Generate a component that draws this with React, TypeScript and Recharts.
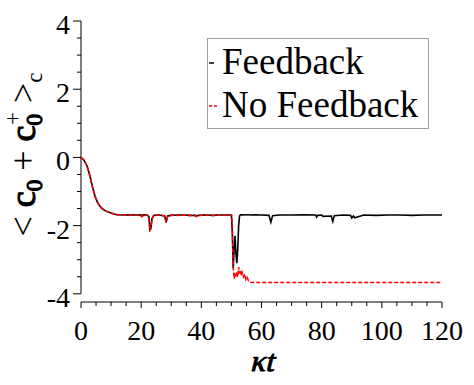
import React from 'react';
import { LineChart, Line, XAxis, YAxis, Legend, ReferenceLine } from 'recharts';

const FONT = "'Liberation Serif', serif";

// kappa*t sample times
const time = [
  0, 1, 2, 3, 3.5, 4, 4.7, 5.5, 6.2, 7, 8, 9, 10, 11, 12, 14, 16, 18, 19.5, 20.2,
  21, 22, 22.6, 22.9, 23.2, 23.6, 24.2, 26, 27.8, 28.3, 28.8, 30, 32, 34, 36, 38, 38.5, 39, 41, 44,
  46, 48, 50, 50.3, 50.6, 50.9, 51.2, 51.5, 51.8, 52.1, 52.4, 52.7, 53, 53.3, 53.6, 54, 54.4, 54.8, 55.2, 55.6,
  56.2, 58, 60, 62.5, 63.1, 63.7, 66, 70, 74, 78, 78.3, 78.7, 80, 80.4, 83.2, 83.7, 84.2, 87, 89.6, 90,
  90.6, 91, 94, 98, 102, 106, 110, 114, 118, 120,
];

const feedback = [
  0, -0.08, -0.25, -0.55, -0.75, -0.93, -1.15, -1.32, -1.42, -1.5, -1.56, -1.6, -1.63, -1.66, -1.68, -1.69, -1.68, -1.69, -1.68, -1.7,
  -1.68, -1.69, -1.74, -2.12, -2.08, -1.8, -1.7, -1.69, -1.72, -1.9, -1.72, -1.7, -1.69, -1.69, -1.7, -1.7, -1.71, -1.7, -1.69, -1.7,
  -1.69, -1.69, -1.69, -2.2, -3.25, -2.7, -2.3, -2.8, -3.1, -2.7, -2.0, -1.72, -1.68, -1.68, -1.69, -1.68, -1.68, -1.69, -1.68, -1.68,
  -1.69, -1.68, -1.69, -1.7, -1.9, -1.71, -1.69, -1.69, -1.68, -1.69, -1.75, -1.7, -1.69, -1.73, -1.72, -1.88, -1.71, -1.69, -1.7, -1.78,
  -1.72, -1.77, -1.69, -1.7, -1.69, -1.69, -1.7, -1.69, -1.69, -1.69,
];

const noFeedback = [
  0, -0.08, -0.25, -0.55, -0.75, -0.93, -1.15, -1.32, -1.42, -1.5, -1.56, -1.6, -1.63, -1.66, -1.68, -1.68, -1.69, -1.69, -1.68, -1.74,
  -1.69, -1.69, -1.74, -2.14, -2.1, -1.8, -1.7, -1.69, -1.72, -1.9, -1.72, -1.69, -1.7, -1.69, -1.7, -1.71, -1.74, -1.7, -1.69, -1.7,
  -1.69, -1.69, -1.69, -2.0, -3.2, -3.55, -3.45, -3.5, -3.35, -3.5, -3.22, -3.4, -3.3, -3.48, -3.38, -3.5, -3.42, -3.58, -3.52, -3.6,
  -3.66, -3.67, -3.67, -3.67, -3.67, -3.67, -3.67, -3.67, -3.67, -3.67, -3.67, -3.67, -3.67, -3.67, -3.67, -3.67, -3.67, -3.67, -3.67, -3.67,
  -3.67, -3.67, -3.67, -3.67, -3.67, -3.67, -3.67, -3.67, -3.67, -3.67,
];

const xTicks = [0, 5, 10, 15, 20, 25, 30, 35, 40, 45, 50, 55, 60, 65, 70, 75, 80, 85, 90, 95, 100, 105, 110, 115, 120];
const xLabels = [0, 20, 40, 60, 80, 100, 120];
const yTicks = [-4, -3.5, -3, -2.5, -2, -1.5, -1, -0.5, 0, 0.5, 1, 1.5, 2, 2.5, 3, 3.5, 4];
const yLabels = [-4, -2, 0, 2, 4];

const chartData = time.map((t, i) => ({ t, feedback: feedback[i], noFeedback: noFeedback[i] }));

// layout
const W = 474;
const H = 385;
const MARGIN = { top: 21, right: 32, left: 0, bottom: 0 };
const Y_AXIS_W = 81;
const X_AXIS_H = 83;
const plotBottom = H - MARGIN.bottom - X_AXIS_H;
const plotCenterX = (Y_AXIS_W + W - MARGIN.right) / 2;
const plotCenterY = (MARGIN.top + plotBottom) / 2;

// heavier glyphs without asking for a bold face
const heavy = { stroke: '#000', strokeWidth: 1.1 };

const XTick = (props: any) => {
  const { x, y, payload } = props;
  const major = xLabels.includes(payload.value);
  return (
    <g>
      <line x1={x} x2={x} y1={y} y2={y + (major ? 6 : 4)} stroke="#000" strokeWidth={1} />
      {major && (
        <text x={x} y={y + 38} textAnchor="middle" fontFamily={FONT} fontSize={28} fill="#000">
          {payload.value}
        </text>
      )}
    </g>
  );
};

const YTick = (props: any) => {
  const { x, y, payload } = props;
  const major = yLabels.includes(payload.value);
  return (
    <g>
      <line x1={x} x2={x - (major ? 8 : 4)} y1={y} y2={y} stroke="#000" strokeWidth={1} />
      {major && (
        <text x={x - 11} y={y + 13} textAnchor="end" fontFamily={FONT} fontSize={28} fill="#000">
          {payload.value}
        </text>
      )}
    </g>
  );
};

const LegendBox = (props: any) => {
  const { payload = [] } = props;
  return (
    <svg width={223} height={92} style={{ display: 'block' }}>
      <rect x={0.5} y={0.5} width={221} height={90} fill="#fff" stroke="#a0a0a0" strokeWidth={1} />
      {payload.map((item: any, i: number) => {
        const dashed = !!item.payload?.strokeDasharray;
        const rowY = 25 + i * 43;
        return (
          <g key={item.value}>
            <line
              x1={2}
              x2={dashed ? 10 : 7}
              y1={rowY}
              y2={rowY}
              stroke={item.color}
              strokeWidth={1.5}
              strokeDasharray={dashed ? '3 2' : undefined}
            />
            <text x={15} y={rowY + 11} fontFamily={FONT} fontSize={37} fill="#000">
              {item.value}
            </text>
          </g>
        );
      })}
    </svg>
  );
};

export default function App() {
  return (
    <div style={{ position: 'absolute', left: 0, top: 0 }}>
      <LineChart width={W} height={H} data={chartData} margin={MARGIN}>
        <XAxis
          dataKey="t"
          type="number"
          domain={[0, 120]}
          ticks={xTicks}
          interval={0}
          tickLine={false}
          tickSize={0}
          tickMargin={0}
          tick={<XTick />}
          axisLine={{ stroke: '#000', strokeWidth: 1 }}
          height={X_AXIS_H}
        />
        <YAxis
          type="number"
          domain={[-4.24, 4]}
          ticks={yTicks}
          interval={0}
          tickLine={false}
          tickSize={0}
          tickMargin={0}
          tick={<YTick />}
          axisLine={false}
          width={Y_AXIS_W}
          allowDataOverflow
        />
        <ReferenceLine segment={[{ x: 0, y: -4 }, { x: 0, y: 4 }]} stroke="#000" strokeWidth={1} ifOverflow="visible" />
        <Legend
          content={<LegendBox />}
          layout="vertical"
          align="center"
          verticalAlign="middle"
          wrapperStyle={{ position: 'absolute', left: 207, top: 38, width: 223, height: 92 }}
        />
        <Line
          name="Feedback"
          dataKey="feedback"
          type="linear"
          stroke="#000000"
          strokeWidth={1.6}
          dot={false}
          isAnimationActive={false}
        />
        <Line
          name="No Feedback"
          dataKey="noFeedback"
          type="linear"
          stroke="#ff0000"
          strokeWidth={1.6}
          strokeDasharray="4 2"
          dot={false}
          isAnimationActive={false}
        />
        {/* axis titles */}
        <text
          transform={`translate(${plotCenterX},${plotBottom + 69}) skewX(-14)`}
          textAnchor="middle"
          fontFamily={FONT}
          fontSize={30}
          fill="#000"
          {...heavy}
        >
          κt
        </text>
        <text
          transform={`translate(35,${plotCenterY - 7}) rotate(-90)`}
          textAnchor="middle"
          fontFamily={FONT}
          fontSize={36}
          fill="#000"
        >
          <tspan>&lt; </tspan>
          <tspan {...heavy}>c</tspan>
          <tspan fontSize={23} dy={7} {...heavy}>0</tspan>
          <tspan dy={-7}> + </tspan>
          <tspan {...heavy}>c</tspan>
          <tspan fontSize={23} dy={7} {...heavy}>0</tspan>
          <tspan fontSize={23} dx={-11} dy={-22}>+</tspan>
          <tspan dy={15}> &gt;</tspan>
          <tspan fontSize={23} dy={7}>c</tspan>
        </text>
      </LineChart>
    </div>
  );
}
